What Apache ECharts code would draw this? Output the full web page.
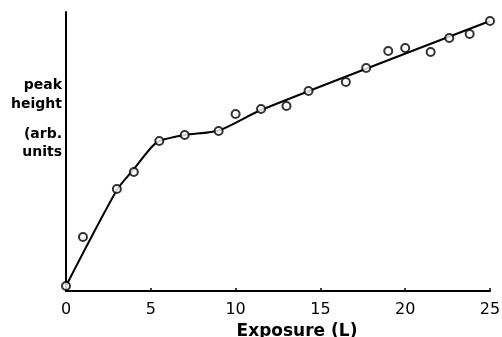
<!DOCTYPE html>
<html>
<head>
<meta charset="utf-8">
<script src="https://cdn.jsdelivr.net/npm/echarts@6/dist/echarts.min.js"></script>
<style>
  html, body { margin: 0; padding: 0; background: #fff; }
  #chart { width: 502px; height: 337px; }
</style>
</head>
<body>
<div id="chart"></div>
<script>
// Measured points: exposure (L) and peak height (arbitrary units)
var exposure = [0, 1, 3, 4, 5.5, 7, 9, 10, 11.5, 13, 14.3, 16.5, 17.7, 19, 20, 21.5, 22.6, 23.8, 25];
var peakHeight = [5, 54, 102, 119, 150, 156, 160, 177, 182, 185, 200, 209, 223, 240, 243, 239, 253, 257, 270];

// Guide curve drawn through the measurements
var curveX = [0, 3, 4, 5, 5.5, 7, 9, 11.5, 25];
var curveY = [5, 101, 122, 143, 150, 156, 160.5, 181, 270];

var xTicks = [0, 5, 10, 15, 20, 25];
var yLabelLines = ['peak', 'height', '(arb.', 'units'];

var FONT = 'DejaVu Sans';

function pairs(xs, ys) {
  return xs.map(function (x, i) { return [x, ys[i]]; });
}

var chart = echarts.init(document.getElementById('chart'), null, { renderer: 'canvas' });

var labelY = [85, 104, 134, 152];

chart.setOption({
  animation: false,
  backgroundColor: '#ffffff',
  grid: { left: 66, right: 12, top: 12, bottom: 46, outerBoundsMode: 'none', containLabel: false },
  xAxis: {
    type: 'value',
    min: 0,
    max: 25,
    interval: 5,
    axisLine: { lineStyle: { color: '#000', width: 2 } },
    axisTick: { inside: true, length: 3, lineStyle: { color: '#000', width: 1.5 } },
    splitLine: { show: false },
    axisLabel: {
      color: '#000',
      fontFamily: FONT,
      fontSize: 16,
      margin: 11,
      formatter: function (v) { return xTicks.indexOf(v) >= 0 ? String(v) : ''; }
    },
    name: 'Exposure (L)',
    nameLocation: 'middle',
    nameGap: 28,
    nameTextStyle: {
      color: '#000',
      fontFamily: FONT,
      fontSize: 17,
      fontWeight: 'bold',
      padding: [0, 0, 0, 38]
    }
  },
  yAxis: {
    type: 'value',
    min: 0,
    max: 279,
    axisLine: { show: true, lineStyle: { color: '#000', width: 2 } },
    axisTick: { show: false },
    axisLabel: { show: false },
    splitLine: { show: false }
  },
  graphic: yLabelLines.map(function (t, i) {
    return {
      type: 'text',
      x: 62,
      y: labelY[i],
      style: {
        text: t,
        align: 'right',
        verticalAlign: 'middle',
        fill: '#000',
        font: 'bold 14px "' + FONT + '"'
      }
    };
  }),
  series: [
    {
      type: 'line',
      data: pairs(curveX, curveY),
      smooth: 0.25,
      showSymbol: false,
      lineStyle: { color: '#000', width: 2 },
      z: 2
    },
    {
      type: 'scatter',
      data: pairs(exposure, peakHeight),
      symbol: 'circle',
      symbolSize: 8,
      itemStyle: { color: '#fff', borderColor: '#000', borderWidth: 2 },
      z: 3
    }
  ]
});
</script>
</body>
</html>
